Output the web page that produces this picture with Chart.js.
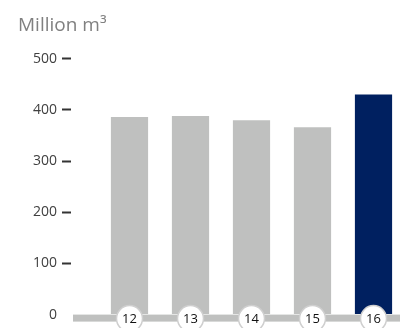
<!DOCTYPE html>
<html>
<head>
<meta charset="utf-8">
<script src="https://cdn.jsdelivr.net/npm/chart.js@4/dist/chart.umd.min.js"></script>
<style>
  html, body { margin: 0; padding: 0; background: #fff; overflow: hidden; }
  #wrap { width: 404px; height: 328px; }
</style>
</head>
<body>
<div id="wrap"><canvas id="volumeChart" width="404" height="328"></canvas></div>
<script>
// Jahre (x-Achse) und Volumen in Millionen m³
const anos = ['12', '13', '14', '15', '16'];
const volumes = [386, 388, 380, 366, 430];
const marcasEixoY = [0, 100, 200, 300, 400, 500];

const CINZA = '#bfc0bf';
const AZUL = '#002060';
const FONTE = "'Open Sans', 'Noto Sans', sans-serif";

// faixa cinza da base + círculos com o ano (por cima das barras)
const baseAnos = {
    id: 'baseAnos',
    afterDraw(chart) {
        const { ctx, scales: { x, y }, chartArea } = chart;
        const y0 = y.getPixelForValue(0);
        ctx.save();
        ctx.fillStyle = CINZA;
        ctx.fillRect(73, y0, chartArea.right - 73, 7);

        ctx.font = `13px ${FONTE}`;
        ctx.textAlign = 'center';
        ctx.textBaseline = 'middle';
        anos.forEach((ano, i) => {
            const cx = x.getPixelForTick(i);
            ctx.beginPath();
            ctx.arc(cx, y0 + 4, 13, 0, Math.PI * 2);
            ctx.fillStyle = '#fff';
            ctx.fill();
            ctx.lineWidth = 1.5;
            ctx.strokeStyle = '#cfcfcf';
            ctx.stroke();

            ctx.fillStyle = '#111';
            ctx.fillText(ano, cx, y0 + 4.5);
        });
        ctx.restore();
    }
};

const ctx = document.getElementById('volumeChart').getContext('2d');

new Chart(ctx, {
    type: 'bar',
    data: {
        labels: anos,
        datasets: [{
            data: volumes,
            backgroundColor: volumes.map((_, i) => i === volumes.length - 1 ? AZUL : CINZA),
            borderWidth: 0,
            barPercentage: 0.61,
            categoryPercentage: 1
        }]
    },
    options: {
        responsive: false,
        animation: false,
        events: [],
        layout: {
            padding: { left: 18, right: 0, top: 0, bottom: 0 }
        },
        plugins: {
            legend: { display: false },
            tooltip: { enabled: false },
            title: {
                display: true,
                text: 'Million m³',
                align: 'start',
                color: '#808080',
                font: { family: FONTE, size: 19, weight: 'normal' },
                padding: { top: 14, bottom: 22 }
            }
        },
        scales: {
            x: {
                grid: { display: false, drawTicks: false },
                border: { display: false },
                ticks: { display: false },
                afterFit: (scale) => { scale.height = 12; }
            },
            y: {
                min: 0,
                max: 500,
                afterBuildTicks: (scale) => {
                    scale.ticks = marcasEixoY.map(v => ({ value: v }));
                },
                grid: {
                    drawOnChartArea: false,
                    drawTicks: true,
                    tickLength: 37,
                    tickWidth: 2,
                    tickBorderDash: [9, 60],
                    tickColor: (c) => c.tick && c.tick.value === 0 ? 'rgba(0,0,0,0)' : '#333'
                },
                border: { display: false },
                ticks: {
                    color: '#404040',
                    font: { family: FONTE, size: 14 },
                    padding: 5
                },
                afterFit: (scale) => { scale.width = 81; }
            }
        }
    },
    plugins: [baseAnos]
});
</script>
</body>
</html>
